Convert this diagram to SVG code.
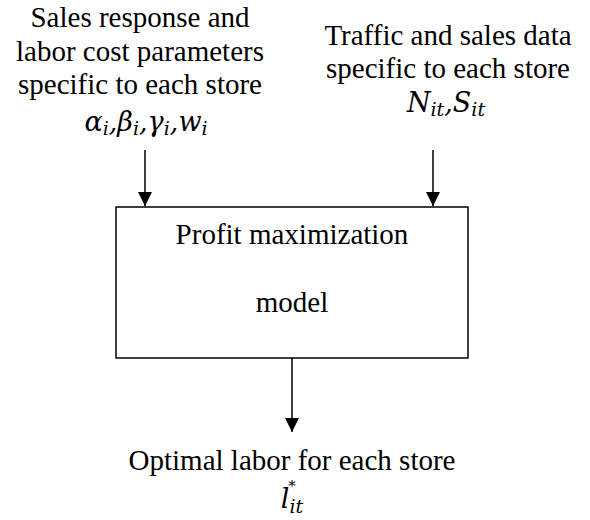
<svg xmlns="http://www.w3.org/2000/svg" width="590" height="520" viewBox="0 0 590 520">
<style>
.t{font-family:"Liberation Serif","Times New Roman",serif;font-size:29px;fill:#000;text-anchor:middle}
.m{font-family:"DejaVu Serif","Liberation Serif",serif;font-style:italic;font-size:27px;fill:#000;text-anchor:middle}
.s{font-size:19px}
.a{font-size:15px;font-style:normal}
.c{stroke:#000;stroke-width:1.5;fill:none}
</style>
<defs>
<marker id="ah" viewBox="0 0 10 10" refX="10" refY="5" markerWidth="14" markerHeight="14" markerUnits="userSpaceOnUse" orient="auto">
<path d="M0,0 L10,5 L0,10 z" fill="#000"/>
</marker>
</defs>
<rect width="590" height="520" fill="#fff"/>
<g id="inputs-left">
<text class="t" x="140" y="27">Sales response and</text>
<text class="t" x="140" y="61">labor cost parameters</text>
<text class="t" x="140" y="94">specific to each store</text>
<text class="m" x="146" y="131">α<tspan class="s" dy="4">i</tspan><tspan dy="-4">,β</tspan><tspan class="s" dy="4">i</tspan><tspan dy="-4">,γ</tspan><tspan class="s" dy="4">i</tspan><tspan dy="-4">,w</tspan><tspan class="s" dy="4">i</tspan></text>
</g>
<g id="inputs-right">
<text class="t" x="448" y="45">Traffic and sales data</text>
<text class="t" x="448" y="78">specific to each store</text>
<text class="m" x="446" y="112">N<tspan class="s" dy="4">it</tspan><tspan dy="-4">,S</tspan><tspan class="s" dy="4">it</tspan></text>
</g>
<g id="model">
<rect x="116" y="207" width="352" height="151" fill="none" stroke="#000" stroke-width="1.5"/>
<text class="t" x="292" y="244">Profit maximization</text>
<text class="t" x="292" y="312">model</text>
</g>
<g id="output">
<text class="t" x="292" y="470">Optimal labor for each store</text>
<text class="m" x="292" y="508">l<tspan class="s" dy="5">it</tspan><tspan class="a" dx="-15" dy="-22">*</tspan></text>
</g>
<g id="connectors">
<line class="c" x1="145" y1="150" x2="145" y2="206" marker-end="url(#ah)"/>
<line class="c" x1="433" y1="150" x2="433" y2="206" marker-end="url(#ah)"/>
<line class="c" x1="292" y1="358" x2="292" y2="432" marker-end="url(#ah)"/>
</g>
</svg>
